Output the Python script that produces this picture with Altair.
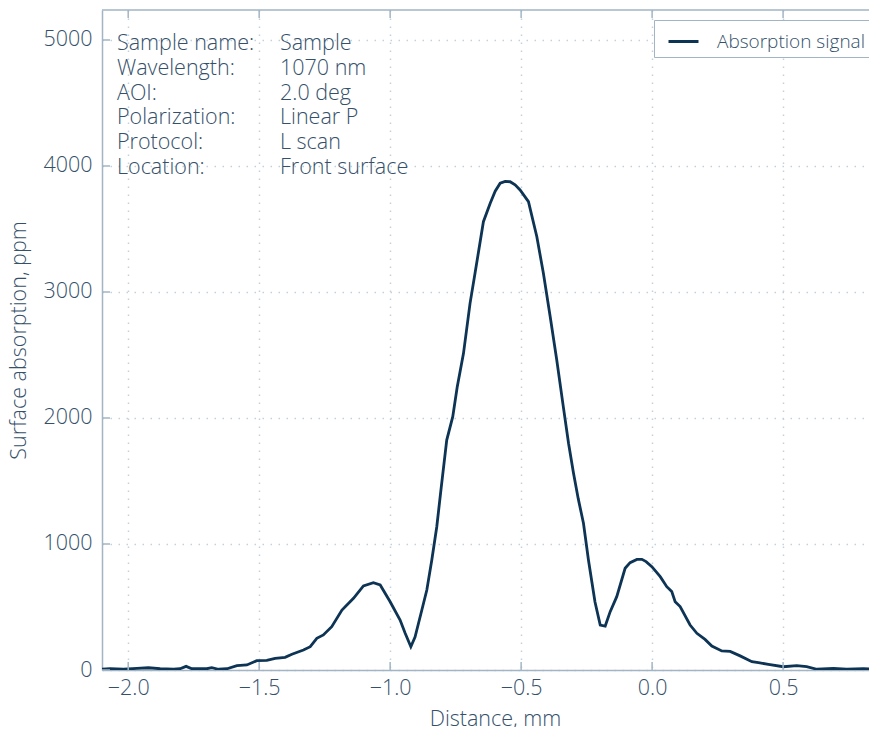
import altair as alt
import pandas as pd

# ---- data ----
x_mm = [-2.100, -2.069, -2.018, -1.967, -1.923, -1.878, -1.827, -1.802, -1.779, -1.757,
        -1.700, -1.681, -1.655, -1.623, -1.585, -1.547, -1.509, -1.471, -1.439, -1.401,
        -1.375, -1.331, -1.305, -1.280, -1.255, -1.223, -1.184, -1.140, -1.102, -1.064,
        -1.038, -1.000, -0.962, -0.943, -0.921, -0.905, -0.879, -0.860, -0.841, -0.822,
        -0.805, -0.784, -0.761, -0.744, -0.720, -0.695, -0.676, -0.644, -0.618, -0.599,
        -0.580, -0.561, -0.542, -0.523, -0.504, -0.472, -0.440, -0.415, -0.389, -0.364,
        -0.339, -0.319, -0.300, -0.282, -0.262, -0.243, -0.218, -0.198, -0.179, -0.160,
        -0.135, -0.103, -0.084, -0.058, -0.039, -0.023, -0.001, 0.031, 0.056, 0.075,
        0.088, 0.107, 0.145, 0.171, 0.202, 0.228, 0.266, 0.298, 0.336, 0.381,
        0.406, 0.444, 0.501, 0.552, 0.590, 0.629, 0.692, 0.743, 0.807, 0.859]
signal_ppm = [6, 10, 6, 13, 18, 10, 6, 10, 29, 10,
              10, 18, 6, 10, 34, 40, 74, 77, 93, 101,
              125, 159, 185, 251, 278, 344, 476, 569, 667, 693,
              675, 542, 397, 294, 185, 262, 476, 635, 873, 1137,
              1450, 1825, 2011, 2246, 2513, 2910, 3148, 3558, 3704, 3800,
              3863, 3878, 3875, 3850, 3810, 3717, 3439, 3148, 2804, 2460,
              2090, 1799, 1561, 1360, 1164, 873, 540, 357, 349, 463,
              582, 807, 852, 878, 878, 860, 820, 741, 661, 622,
              542, 503, 357, 291, 243, 190, 151, 148, 112, 66,
              58, 45, 26, 34, 26, 6, 13, 6, 10, 6]
series_name = ["Absorption signal"] * len(x_mm)

x_ticks = [-2.0, -1.5, -1.0, -0.5, 0.0, 0.5]
y_ticks = [0, 1000, 2000, 3000, 4000, 5000]

info_labels = ["Sample name:", "Wavelength:", "AOI:", "Polarization:", "Protocol:", "Location:"]
info_values = ["Sample", "1070 nm", "2.0 deg", "Linear P", "L scan", "Front surface"]

# ---- style ----
W, H = 767, 660
FONT = "Open Sans"
FS = 21.5
TXT = "#34506a"
AXC = "#a2b5c5"
GRID = "#c2d2dc"
LINE = "#0d3454"

df = pd.DataFrame({"x": x_mm, "y": signal_ppm, "series": series_name})

xscale = alt.Scale(domain=[-2.1, 0.828], nice=False, zero=False)
yscale = alt.Scale(domain=[0, 5238], nice=False, zero=False)

line = alt.Chart(df).mark_line(color=LINE, strokeWidth=2.8, clip=True).encode(
    x=alt.X("x:Q", scale=xscale,
            axis=alt.Axis(values=x_ticks, format=".1f", title="Distance, mm",
                          ticks=False, labelPadding=7, titlePadding=10,
                          titleX=393)),
    y=alt.Y("y:Q", scale=yscale,
            axis=alt.Axis(values=y_ticks, format="d", title="Surface absorption, ppm",
                          ticks=False, labelPadding=10, titlePadding=12)),
    color=alt.Color("series:N", scale=alt.Scale(range=[LINE]),
                    legend=alt.Legend(title=None, orient="none", legendX=552, legendY=10,
                                      symbolType="stroke", symbolSize=900,
                                      symbolStrokeWidth=3, symbolOffset=8,
                                      labelFont=FONT, labelFontSize=19, labelFontWeight=300,
                                      labelColor=TXT, labelOffset=17, labelLimit=0,
                                      strokeColor=AXC, fillColor="white", padding=5)),
)

xt = pd.DataFrame({"x": x_ticks})
yt = pd.DataFrame({"y": y_ticks})
one = pd.DataFrame({"k": [0]})

tick_bottom = alt.Chart(xt).mark_rule(color=AXC, strokeWidth=1.5).encode(
    x=alt.X("x:Q", scale=xscale), y=alt.value(H - 8), y2=alt.value(H))
tick_top = alt.Chart(xt).mark_rule(color=AXC, strokeWidth=1.5).encode(
    x=alt.X("x:Q", scale=xscale), y=alt.value(0), y2=alt.value(8))
tick_left = alt.Chart(yt).mark_rule(color=AXC, strokeWidth=1.5).encode(
    y=alt.Y("y:Q", scale=yscale), x=alt.value(0), x2=alt.value(8))
top_border = alt.Chart(one).mark_rule(color=AXC, strokeWidth=1.5).encode(
    x=alt.value(0), x2=alt.value(W), y=alt.value(0))

ann_l = alt.Chart(one).mark_text(text=info_labels, align="left", baseline="alphabetic",
                                 lineHeight=24.8, font=FONT, fontSize=FS, fontWeight=300,
                                 color=TXT).encode(x=alt.value(15), y=alt.value(40))
ann_r = alt.Chart(one).mark_text(text=info_values, align="left", baseline="alphabetic",
                                 lineHeight=24.8, font=FONT, fontSize=FS, fontWeight=300,
                                 color=TXT).encode(x=alt.value(178), y=alt.value(40))

chart = alt.layer(line, tick_bottom, tick_top, tick_left, top_border, ann_l, ann_r).properties(
    width=W, height=H,
    autosize=alt.AutoSizeParams(type="none"),
    padding={"left": 94, "top": 2, "right": 0, "bottom": 57},
).configure_view(stroke=None).configure_axis(
    labelFont=FONT, labelFontSize=FS, labelFontWeight=300, labelColor=TXT,
    titleFont=FONT, titleFontSize=FS, titleFontWeight=300, titleColor=TXT,
    domainColor=AXC, domainWidth=1.5,
    grid=True, gridColor=GRID, gridWidth=1.5, gridDash=[1.5, 6.5],
)

chart.save("out.html", embed_options={"renderer": "svg", "actions": False})
